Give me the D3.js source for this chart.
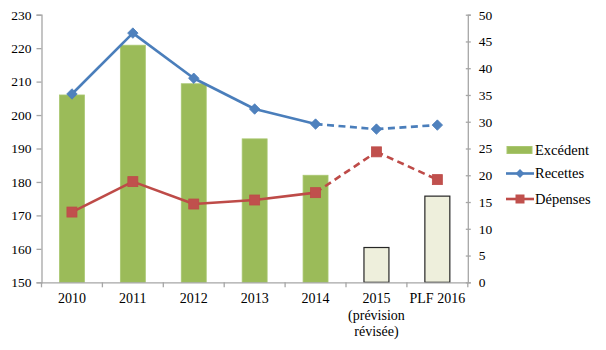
<!DOCTYPE html>
<html><head><meta charset="utf-8">
<script src="https://cdn.jsdelivr.net/npm/d3@7"></script>
<style>body{margin:0;background:#fff;}</style></head><body>
<svg id="c" width="606" height="350"></svg>
<script>
const categories = ["2010","2011","2012","2013","2014","2015\n(prévision\nrévisée)","PLF 2016"];
const recettes = [206.3,224.5,211.0,201.8,197.3,195.8,197.0];
const depenses = [171.0,180.1,173.4,174.6,176.8,189.0,180.7];
const excedent = [35.0,44.3,37.1,26.8,20.0,6.5,16.1];
const forecast = [false,false,false,false,false,true,true];
const leftTicks = [150,160,170,180,190,200,210,220,230];
const rightTicks = [0,5,10,15,20,25,30,35,40,45,50];
const seriesNames = ["Excédent","Recettes","Dépenses"];

const FONT = "Liberation Serif";
const svg = d3.select("#c");
const L = 41.5, R = 467.8, T = 14.7, B = 282.3;
const x = d3.scaleBand().domain(categories).range([L,R]).padding(0);
const yL = d3.scaleLinear().domain([150,230]).range([B,T]);
const yR = d3.scaleLinear().domain([0,50]).range([B,T]);
const axisColor = "#a6a6a6";

// bars
const bw = x.bandwidth()*0.41;
svg.append("g").selectAll("rect").data(excedent).join("rect")
  .attr("x",(d,i)=>x(categories[i])+x.bandwidth()/2-bw/2)
  .attr("y",d=>yR(d))
  .attr("width",bw)
  .attr("height",d=>B-yR(d))
  .attr("fill",(d,i)=>forecast[i]?"#eeefdc":"#9bbb59")
  .attr("stroke",(d,i)=>forecast[i]?"#262626":"#a9c771")
  .attr("stroke-width",(d,i)=>forecast[i]?1.2:0.8);

// axes
const gL = svg.append("g").attr("transform",`translate(${L},0)`)
  .call(d3.axisLeft(yL).tickValues(leftTicks).tickSize(5).tickPadding(5));
const gR = svg.append("g").attr("transform",`translate(${R},0)`)
  .call(d3.axisRight(yR).tickValues(rightTicks).tickSize(3).tickPadding(8));
const gB = svg.append("g").attr("transform",`translate(0,${B})`)
  .call(d3.axisBottom(x).tickSize(0).tickPadding(0).tickFormat(""));
[gL,gR,gB].forEach(g=>{
  g.attr("font-family",FONT).attr("font-size",13.5);
  g.select(".domain").attr("stroke",axisColor).attr("stroke-width",1.3);
  g.selectAll(".tick line").attr("stroke",axisColor).attr("stroke-width",1.3);
  g.selectAll("text").attr("fill","#000").attr("font-family",FONT).attr("font-size",13.5);
});
gR.selectAll(".tick line").attr("x1",-2);
// bottom tick marks at band boundaries
const bounds = categories.map(c=>x(c)).concat([R]);
svg.append("g").selectAll("line").data(bounds).join("line")
  .attr("x1",d=>d).attr("x2",d=>d).attr("y1",B).attr("y2",B+5)
  .attr("stroke",axisColor).attr("stroke-width",1.3);
// bottom labels
const lab = svg.append("g");
categories.forEach(c=>{
  const lines = c.split("\n");
  const cx = x(c)+x.bandwidth()/2;
  const t = lab.append("text").attr("text-anchor","middle").attr("x",cx).attr("y",B+21)
    .attr("font-family",FONT).attr("font-size",14).attr("fill","#000");
  lines.forEach((ln,k)=>t.append("tspan").attr("x",cx).attr("dy",k?16.3:0).text(ln));
});

// lines
function drawLine(vals,color){
  const pts = vals.map((v,i)=>[x(categories[i])+x.bandwidth()/2,yL(v)]);
  const g = svg.append("g");
  for(let i=0;i<pts.length-1;i++){
    g.append("line").attr("x1",pts[i][0]).attr("y1",pts[i][1])
      .attr("x2",pts[i+1][0]).attr("y2",pts[i+1][1])
      .attr("stroke",color).attr("stroke-width",2.6)
      .attr("stroke-dasharray",forecast[i+1]?"7,4.5":null);
  }
  return {g,pts};
}
const rec = drawLine(recettes,"#4a7ebb");
const dep = drawLine(depenses,"#be4b48");
rec.g.selectAll("path.m").data(rec.pts).join("path").attr("class","m")
  .attr("d",d3.symbol(d3.symbolDiamond2,70)())
  .attr("transform",d=>`translate(${d[0]},${d[1]})`)
  .attr("fill","#4f81bd").attr("stroke","#4a7ebb").attr("stroke-width",0.8);
dep.g.selectAll("rect.m").data(dep.pts).join("rect").attr("class","m")
  .attr("x",d=>d[0]-5).attr("y",d=>d[1]-5).attr("width",10).attr("height",10)
  .attr("fill","#c0504d").attr("stroke","#be4b48").attr("stroke-width",0.8);

// legend
const lg = svg.append("g");
const lx = 507, ly = [150,173.5,199];
lg.append("rect").attr("x",lx).attr("y",ly[0]-3.5).attr("width",25).attr("height",7).attr("fill","#9bbb59").attr("stroke","#a9c771");
lg.append("line").attr("x1",lx-1).attr("x2",lx+27).attr("y1",ly[1]).attr("y2",ly[1]).attr("stroke","#4a7ebb").attr("stroke-width",2.6);
lg.append("path").attr("d",d3.symbol(d3.symbolDiamond2,50)()).attr("transform",`translate(${lx+13},${ly[1]})`).attr("fill","#4f81bd");
lg.append("line").attr("x1",lx-1).attr("x2",lx+27).attr("y1",ly[2]).attr("y2",ly[2]).attr("stroke","#be4b48").attr("stroke-width",2.6);
lg.append("rect").attr("x",lx+8.5).attr("y",ly[2]-4.5).attr("width",9).attr("height",9).attr("fill","#c0504d");
seriesNames.forEach((n,i)=>{
  lg.append("text").attr("x",lx+28).attr("y",ly[i]+4.5)
    .attr("font-family",FONT).attr("font-size",14.5).attr("fill","#000").text(n);
});
</script></body></html>
